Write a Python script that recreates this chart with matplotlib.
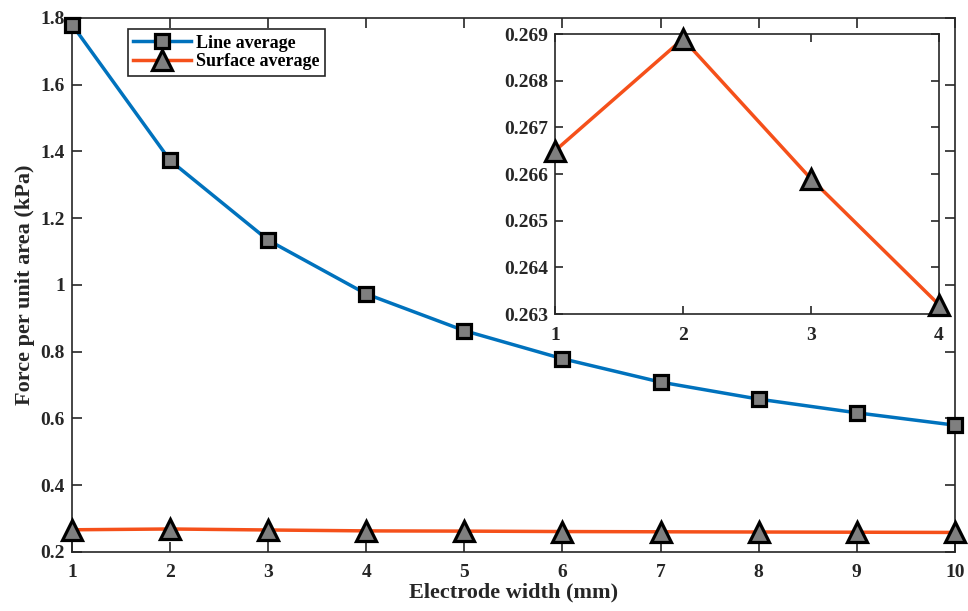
import numpy as np
import matplotlib.pyplot as plt

plt.rcParams['font.family'] = ['Liberation Serif', 'DejaVu Serif']
plt.rcParams['font.weight'] = 'bold'

width_mm = [1, 2, 3, 4, 5, 6, 7, 8, 9, 10]
line_avg = [1.78, 1.373, 1.134, 0.973, 0.863, 0.779, 0.709, 0.658, 0.617, 0.580]
surface_avg = [0.2665, 0.2689, 0.2659, 0.2632, 0.2625, 0.2612, 0.2605, 0.2598, 0.2592, 0.2585]

inset_x = [1, 2, 3, 4]
inset_y = surface_avg[:4]

blue = '#0072BD'
orange = '#F5501A'
grey = '#7F7F7F'

fig = plt.figure(figsize=(9.68, 6.11), dpi=100)
ax = fig.add_axes([0.0744, 0.0966, 0.912, 0.874])

ax.plot(width_mm, line_avg, '-s', color=blue, lw=2.5, ms=10,
        mfc=grey, mec='black', mew=2.3, label='Line average', clip_on=False, zorder=3)
ax.plot(width_mm, surface_avg, '-^', color=orange, lw=2.5, ms=14,
        mfc=grey, mec='black', mew=2.3, label='Surface average', clip_on=False, zorder=3)

ax.set_xlim(1, 10)
ax.set_ylim(0.2, 1.8)
ax.set_xticks(width_mm)
ax.set_yticks([0.2, 0.4, 0.6, 0.8, 1.0, 1.2, 1.4, 1.6, 1.8])
ax.set_yticklabels(['0.2', '0.4', '0.6', '0.8', '1', '1.2', '1.4', '1.6', '1.8'])
ax.tick_params(direction='in', top=True, right=True, length=7, width=1.2,
               labelsize=14, colors='#262626')
ax.tick_params(axis='x', pad=9)
ax.tick_params(axis='y', pad=5)
for s in ax.spines.values():
    s.set_linewidth(1.2)
    s.set_color('#262626')
ax.set_xlabel('Electrode width (mm)', fontsize=16, fontweight='bold', color='#262626', labelpad=1)
ax.set_ylabel('Force per unit area (kPa)', fontsize=16, fontweight='bold', color='#262626', labelpad=4)

leg = ax.legend(loc='upper left', bbox_to_anchor=(0.063, 0.979), borderaxespad=0,
                fontsize=13, handlelength=3.2, borderpad=0.3, labelspacing=0.1,
                handletextpad=0.3, fancybox=False, edgecolor='#262626', framealpha=1)
leg.get_frame().set_linewidth(1.2)

ins = fig.add_axes([0.5733, 0.486, 0.3967, 0.458])
ins.plot(inset_x, inset_y, '-^', color=orange, lw=2.5, ms=14,
         mfc=grey, mec='black', mew=2.3, clip_on=False, zorder=3)
ins.set_xlim(1, 4)
ins.set_ylim(0.263, 0.269)
ins.set_xticks(inset_x)
ins.set_yticks(np.arange(0.263, 0.2691, 0.001))
ins.set_yticklabels(['0.263', '0.264', '0.265', '0.266', '0.267', '0.268', '0.269'])
ins.tick_params(direction='in', top=True, right=True, length=6, width=1.2,
                labelsize=14, colors='#262626')
ins.tick_params(axis='x', pad=9)
ins.tick_params(axis='y', pad=5)
for s in ins.spines.values():
    s.set_linewidth(1.2)
    s.set_color('#262626')

fig.savefig('out.png', dpi=100)
